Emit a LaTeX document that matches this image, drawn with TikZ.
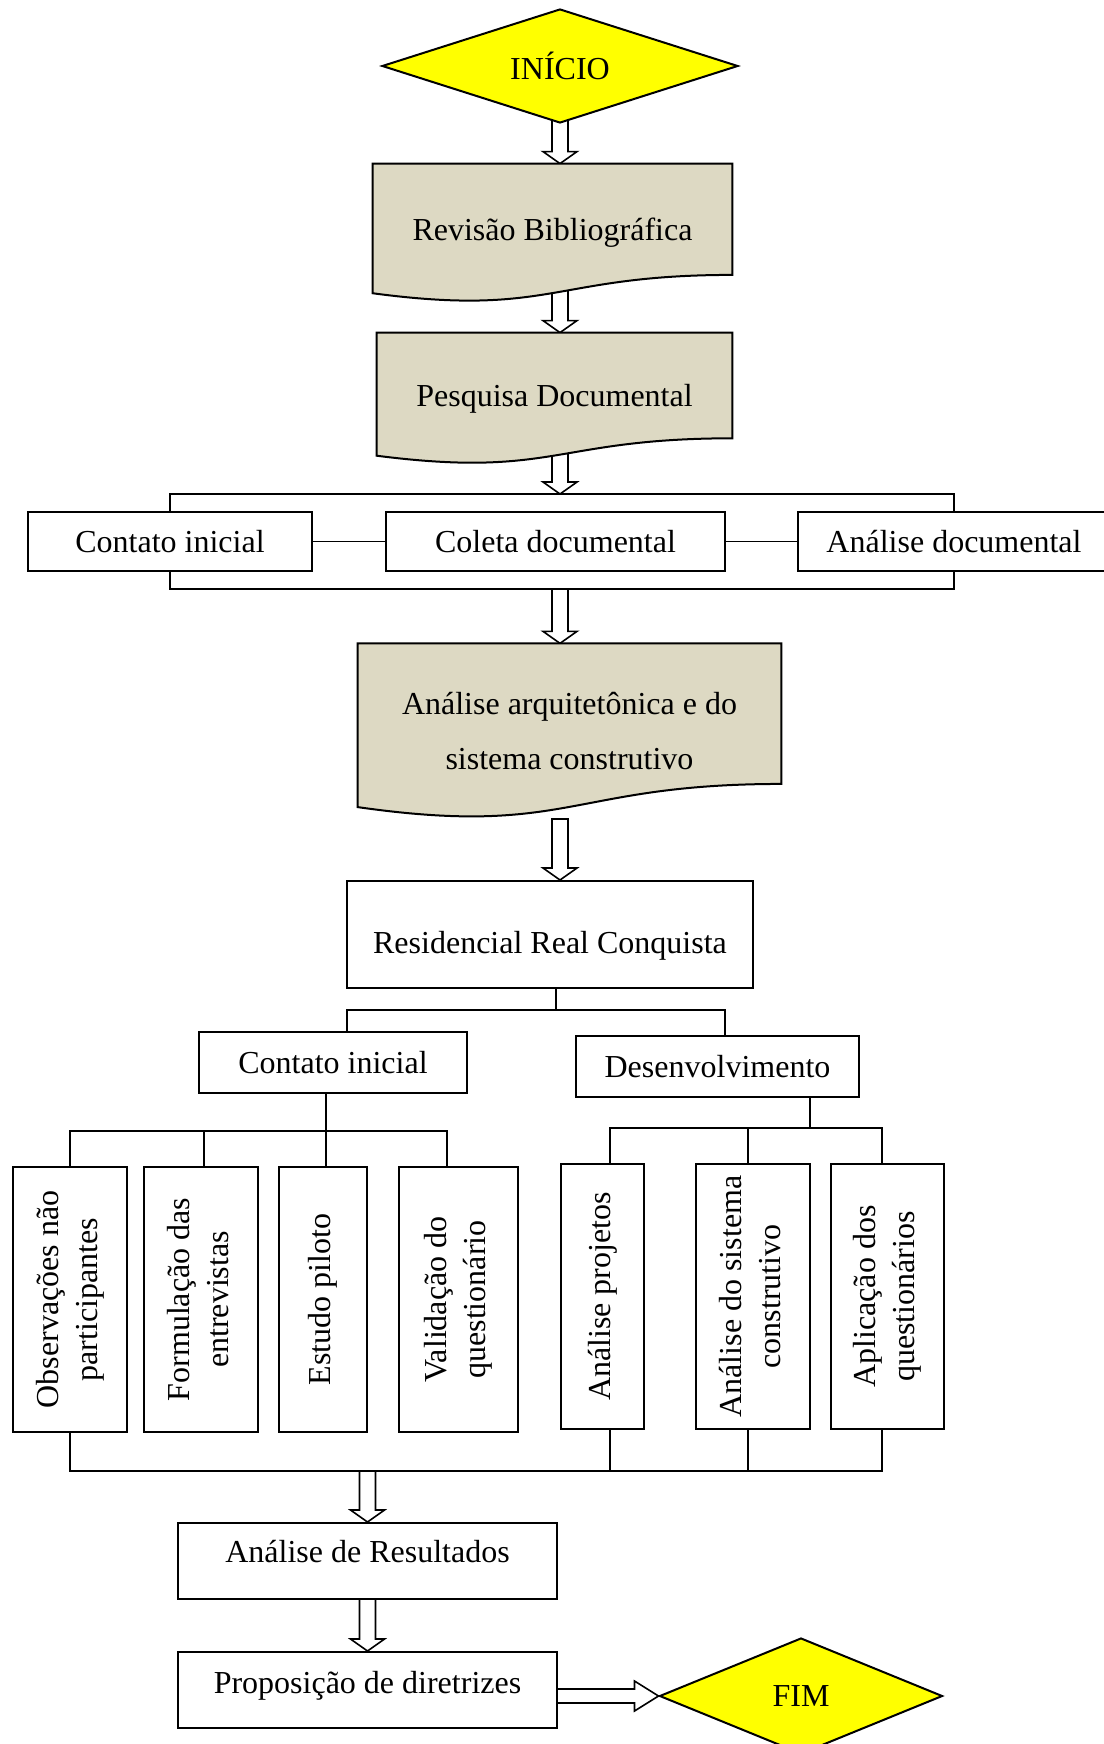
\documentclass[tikz,border=0pt]{standalone}
\usepackage{fontspec}
\setmainfont{Liberation Serif}
\usepackage{graphicx}
\usetikzlibrary{shapes.geometric,calc,backgrounds}

\definecolor{docfill}{HTML}{DDD9C3}
\definecolor{termfill}{HTML}{FFFF00}

\newcommand{\docshape}[1]{%
  \draw[docline] (#1.north west) -- (#1.north east)
    -- ($(#1.north east)!0.802!(#1.south east)$)
    .. controls ($(#1.north)!0.802!(#1.south)$) and ($(#1.north)!1.107!(#1.south)$)
    .. ($(#1.north west)!0.934!(#1.south west)$) -- cycle;}

\newcommand{\blockdown}[2]{%
  \draw[hollow] let \p1=(#1), \p2=(#2) in
    ({\x1-4pt},\y1) -- ({\x1-4pt},{\y2+6pt}) -- ({\x1-8.5pt},{\y2+6pt}) -- (\x1,\y2)
    -- ({\x1+8.5pt},{\y2+6pt}) -- ({\x1+4pt},{\y2+6pt}) -- ({\x1+4pt},\y1) -- cycle;}

\newcommand{\blockright}[2]{%
  \draw[hollow] let \p1=(#1), \p2=(#2) in
    (\x1,{\y2+3.5pt}) -- ({\x2-12pt},{\y2+3.5pt}) -- ({\x2-12pt},{\y2+7.5pt}) -- (\x2,\y2)
    -- ({\x2-12pt},{\y2-7.5pt}) -- ({\x2-12pt},{\y2-3.5pt}) -- (\x1,{\y2-3.5pt}) -- cycle;}

\newcommand{\vtext}[1]{\rotatebox{90}{\begin{tabular}{@{}c@{}}#1\end{tabular}}}

\begin{document}
\begin{tikzpicture}[x=0.5pt, y=-0.5pt,
    every node/.style={font=\fontsize{16}{19.5}\selectfont, inner sep=0pt},
    term/.style={draw, diamond, aspect=3, fill=termfill, line width=1pt},
    doc/.style={align=center},
    main/.style={draw, fill=white, line width=1pt, minimum height=29.5pt},
    vbox/.style={draw, fill=white, line width=1pt, minimum height=132.5pt},
    link/.style={line width=0.75pt},
    hollow/.style={fill=white, line width=0.8pt},
    docline/.style={fill=docfill, line width=1pt}]
    \useasboundingbox (0,0) rectangle (1103,1744);

    \node[term, minimum width=178pt, minimum height=57pt] (1) at (560,66) {INÍCIO};
    \node[doc, minimum width=179.5pt, minimum height=69pt] (2) at (552.5,233) {Revisão Bibliográfica};
    \node[doc, minimum width=177.5pt, minimum height=65.5pt] (3) at (554.5,398.5) {Pesquisa Documental};
    \node[main, minimum width=142pt] (4) at (170,541.5) {Contato inicial};
    \node[main, minimum width=169.5pt] (5) at (555.5,541.5) {Coleta documental};
    \node[main, minimum width=156pt] (6) at (954,541.5) {Análise documental};
    \node[doc, minimum width=211.5pt, minimum height=87.25pt, font=\fontsize{16}{27.5}\selectfont] (7) at (569.5,731) {Análise arquitetônica e do\\sistema construtivo};
    \node[main, minimum width=203pt, minimum height=53.5pt, text height=22pt] (8) at (550,934.5) {Residencial Real Conquista};
    \node[main, minimum width=134pt, minimum height=30.5pt] (9) at (333,1062.5) {Contato inicial};
    \node[main, minimum width=141.5pt, minimum height=30.5pt] (10) at (717.5,1066.5) {Desenvolvimento};
    \node[vbox, minimum width=57pt] (11) at (70,1299.5) {\vtext{Observações não\\participantes}};
    \node[vbox, minimum width=57pt] (12) at (201,1299.5) {\vtext{Formulação das\\entrevistas}};
    \node[vbox, minimum width=44pt] (13) at (323,1299.5) {\vtext{Estudo piloto}};
    \node[vbox, minimum width=59.5pt] (14) at (458.5,1299.5) {\vtext{Validação do\\questionário}};
    \node[vbox, minimum width=41.5pt] (15) at (602.5,1296.5) {\vtext{Análise projetos}};
    \node[vbox, minimum width=57pt] (16) at (753,1296.5) {\vtext{Análise do sistema\\construtivo}};
    \node[vbox, minimum width=56.5pt] (17) at (887.5,1296.5) {\vtext{Aplicação dos\\questionários}};
    \node[main, minimum width=189.5pt, minimum height=38pt, text depth=9.5pt] (18) at (367.5,1561) {Análise de Resultados};
    \node[main, minimum width=189.5pt, minimum height=38pt, text depth=7.5pt] (19) at (367.5,1690) {Proposição de diretrizes};
    \node[term, minimum width=141.5pt, minimum height=58pt] (20) at (801,1696) {FIM};

    \coordinate (t) at (560,494);
    \coordinate (b) at (560,589);
    \coordinate (w) at (560,819);
    \coordinate (r) at (556,1010);
    \coordinate (r1) at (347,1010);
    \coordinate (r2) at (725,1010);
    \coordinate (a2) at (204,1131);
    \coordinate (a3) at (326,1131);
    \coordinate (a4) at (447,1131);
    \coordinate (e0) at (810,1128);
    \coordinate (e2) at (748,1128);
    \coordinate (e3) at (882,1128);
    \coordinate (f2) at (610,1471);
    \coordinate (f3) at (748,1471);
    \coordinate (f4) at (882,1471);

    \draw[link] (4.north) |- (t) -| (6.north);
    \draw[link] (4.south) |- (b) -| (6.south);
    \draw[link] (4) -- (5);
    \draw[link] (5) -- (6);

    \draw[link] (8.south -| r) -- (r);
    \draw[link] (9.north -| r1) -- (r1) -- (r2) -- (10.north -| r2);

    \draw[link] (9.south -| a3) -- (a3);
    \draw[link] (11.north) |- (a4) -- (14.north -| a4);
    \draw[link] (a2) -- (12.north -| a2);
    \draw[link] (a3) -- (13.north -| a3);

    \draw[link] (10.south -| e0) -- (e0);
    \draw[link] (15.north -| f2) |- (e3) -- (17.north -| e3);
    \draw[link] (e2) -- (16.north -| e2);

    \draw[link] (11.south) |- (f4) -- (17.south -| f4);
    \draw[link] (f2) -- (15.south -| f2);
    \draw[link] (f3) -- (16.south -| f3);

    \begin{scope}[on background layer]
    \blockdown{1}{2.north -| 1}
    \blockdown{2 -| 1}{3.north -| 1}
    \blockdown{3 -| 1}{t}
    \blockdown{b}{7.north -| 1}
    \blockdown{w}{8.north -| 1}
    \blockdown{18 |- f4}{18.north}
    \blockdown{18}{19.north}
    \blockright{19}{20.west}
    \docshape{2}
    \docshape{3}
    \docshape{7}
    \end{scope}

\end{tikzpicture}
\end{document}
